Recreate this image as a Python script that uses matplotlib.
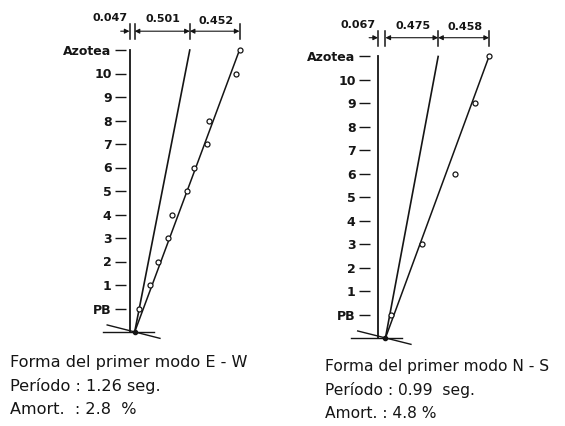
import matplotlib
matplotlib.use("Agg")
import matplotlib.pyplot as plt

# floor levels (0 = base), labels shown on the left
levels = list(range(13))
level_labels = ["PB", "1", "2", "3", "4", "5", "6", "7", "8", "9", "10", "Azotea"]

# E-W direction
ew_parts = [0.047, 0.501, 0.452]          # base shift, rigid rotation, flexure
ew_meas_lv = [1, 2, 3, 4, 5, 6, 7, 8, 9, 11, 12]
ew_meas_x = [0.09, 0.19, 0.26, 0.35, 0.39, 0.52, 0.59, 0.70, 0.72, 0.97, 1.00]
ew_caption = ["Forma del primer modo E - W", "Período : 1.26 seg.", "Amort.  : 2.8  %"]

# N-S direction
ns_parts = [0.067, 0.475, 0.458]
ns_meas_lv = [1, 4, 7, 10, 12]
ns_meas_x = [0.12, 0.40, 0.69, 0.87, 1.00]
ns_caption = ["Forma del primer modo N - S", "Período : 0.99  seg.", "Amort. : 4.8 %"]

W, H = 565, 426
fig = plt.figure(figsize=(W / 100, H / 100), dpi=100)
ink = "#151515"


def place(ref_px, sx, base_px, sy, xlim, ylim):
    # axes placed so that data x=0 / level 0 land on the given pixels
    left = ref_px + xlim[0] * sx
    right = ref_px + xlim[1] * sx
    bottom = base_px - ylim[0] * sy
    top = base_px - ylim[1] * sy
    ax = fig.add_axes([left / W, 1 - bottom / H, (right - left) / W, (bottom - top) / H])
    ax.set_xlim(*xlim)
    ax.set_ylim(*ylim)
    return ax


def panel(ax, parts, meas_lv, meas_x):
    base, rigid, flex = parts
    top = levels[-1]
    total = base + rigid + flex
    for s in ax.spines.values():
        s.set_visible(False)
    ax.set_xticks([])
    ax.set_yticks(levels[1:], level_labels)
    ax.tick_params(axis="y", length=8, width=1.0, pad=2.5, labelsize=9, colors=ink)
    for t in ax.get_yticklabels():
        t.set_fontweight("bold")

    # reference line, rigid-body line and first-mode line
    ax.plot([0, 0], [0, top], color=ink, lw=1.3)
    ax.plot([base, base + rigid], [0, top], color=ink, lw=1.2)
    ax.plot([base, total], [0, top], color=ink, lw=1.1)
    ax.plot(meas_x, meas_lv, "o", ms=3.6, mfc="white", mec=ink, mew=0.9, zorder=3)
    ax.plot([base], [0], "o", ms=3, color=ink, zorder=3)

    # ground: horizontal and rotated base
    ax.plot([-0.24, 0.22], [0, 0], color=ink, lw=1.0, clip_on=False)
    ax.plot([base - 0.25, base + 0.23], [0.3, -0.27], color=ink, lw=1.0, clip_on=False)

    # dimension line on top
    yd = 12.8
    for xv in [0, base, base + rigid, total]:
        ax.plot([xv, xv], [yd - 0.35, yd + 0.3], color=ink, lw=1.1, clip_on=False)
    arr = dict(color=ink, lw=0.8, shrinkA=0, shrinkB=0, mutation_scale=7)
    ax.annotate("", xy=(0, yd), xytext=(-0.08, yd), arrowprops=dict(arrowstyle="-|>", **arr),
                annotation_clip=False)
    ax.annotate("", xy=(base + rigid, yd), xytext=(base, yd), arrowprops=dict(arrowstyle="<|-|>", **arr))
    ax.annotate("", xy=(total, yd), xytext=(base + rigid, yd), arrowprops=dict(arrowstyle="<|-|>", **arr))
    lab = dict(fontsize=8, fontweight="bold", color=ink, va="center")
    ax.text(-0.02, 13.35, f"{base:.3f}", ha="right", **lab)
    ax.text(base + rigid / 2 + 0.01, 13.3, f"{rigid:.3f}", ha="center", **lab)
    ax.text(base + rigid + flex / 2 + 0.01, 13.25, f"{flex:.3f}", ha="center", **lab)


ax1 = place(129.5, 110, 332, 23.5, (-0.03, 1.1), (-0.5, 13.5))
panel(ax1, ew_parts, ew_meas_lv, ew_meas_x)
ax2 = place(378, 111, 338, 23.46, (-0.07, 1.1), (-0.5, 13.5))
panel(ax2, ns_parts, ns_meas_lv, ns_meas_x)

for i, line in enumerate(ew_caption):
    fig.text(10 / W, 1 - (363 + 23.5 * i) / H, line, fontsize=11.6, color=ink, va="center")
for i, line in enumerate(ns_caption):
    fig.text(325 / W, 1 - (366 + 23.5 * i) / H, line, fontsize=11.2, color=ink, va="center")

fig.savefig("out.png", dpi=100)
